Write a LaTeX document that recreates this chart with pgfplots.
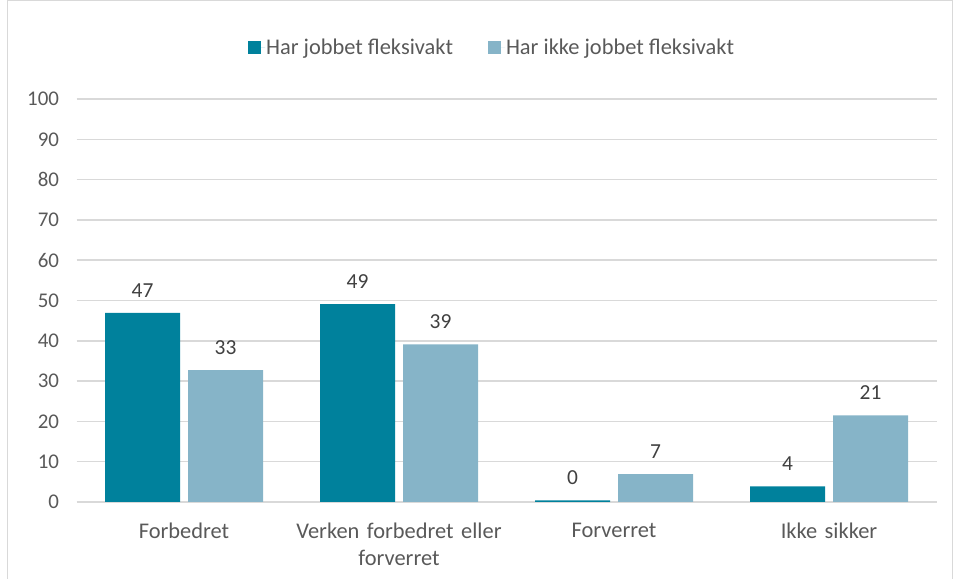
\documentclass[border=0pt]{standalone}
\usepackage{pgfplots}
\pgfplotsset{compat=1.18}
\usepackage{fontspec}
\setmainfont{Carlito}
\definecolor{teal1}{HTML}{00819C}
\definecolor{light1}{HTML}{86B4C8}
\definecolor{gridc}{HTML}{D9D9D9}
\definecolor{txt}{HTML}{595959}
\definecolor{lbl}{HTML}{404040}
\begin{document}
\begin{tikzpicture}
\useasboundingbox (0bp,0bp) rectangle (954bp,579bp);
\draw[gridc, line width=1.5bp] (7.5bp,-5bp) rectangle (952.5bp,578.5bp);
\begin{axis}[
  at={(76.5bp,77bp)}, anchor=south west,
  scale only axis, width=860bp, height=403bp,
  ymin=0, ymax=100, ytick={0,10,...,100},
  xmin=-0.5, xmax=3.5, xtick={0,1,2,3},
  xticklabels={Forbedret, {Verken forbedret eller\\forverret}, Forverret, Ikke sikker},
  xticklabel style={align=center, text width=240bp, font=\fontsize{22.5}{27}\selectfont, text=txt, yshift=-13bp},
  yticklabel style={font=\fontsize{21}{24}\selectfont, text=txt, xshift=-14bp},
  /pgf/number format/assume math mode=true,
  ybar=8bp, bar width=75bp,
  axis line style={draw=none},
  tick style={draw=none},
  ymajorgrids, major grid style={gridc, line width=1.5bp},
  point meta=explicit symbolic,
  nodes near coords,
  every node near coord/.append style={font=\fontsize{21.5}{24}\selectfont, text=lbl, yshift=12bp},
  legend columns=2,
  legend style={at={(0.4826,1.129)}, anchor=center, draw=none, fill=none,
    font=\fontsize{22.5}{26}\selectfont, text=txt, inner sep=0pt,
    nodes={inner sep=1bp},
    /tikz/every even column/.append style={column sep=34bp}},
  legend image code/.code={\fill[#1] (0bp,-6.5bp) rectangle (13bp,6.5bp); \path (0bp,0bp) -- (17bp,0bp);},
]
\addplot[fill=teal1, draw=none] coordinates {(0,46.9)[47] (1,49.1)[49] (2,0.4)[0] (3,3.9)[4]};
\addplot[fill=light1, draw=none] coordinates {(0,32.7)[33] (1,39.1)[39] (2,6.9)[7] (3,21.5)[21]};
\legend{Har jobbet fleksivakt, Har ikke jobbet fleksivakt}
\end{axis}
\end{tikzpicture}
\end{document}
